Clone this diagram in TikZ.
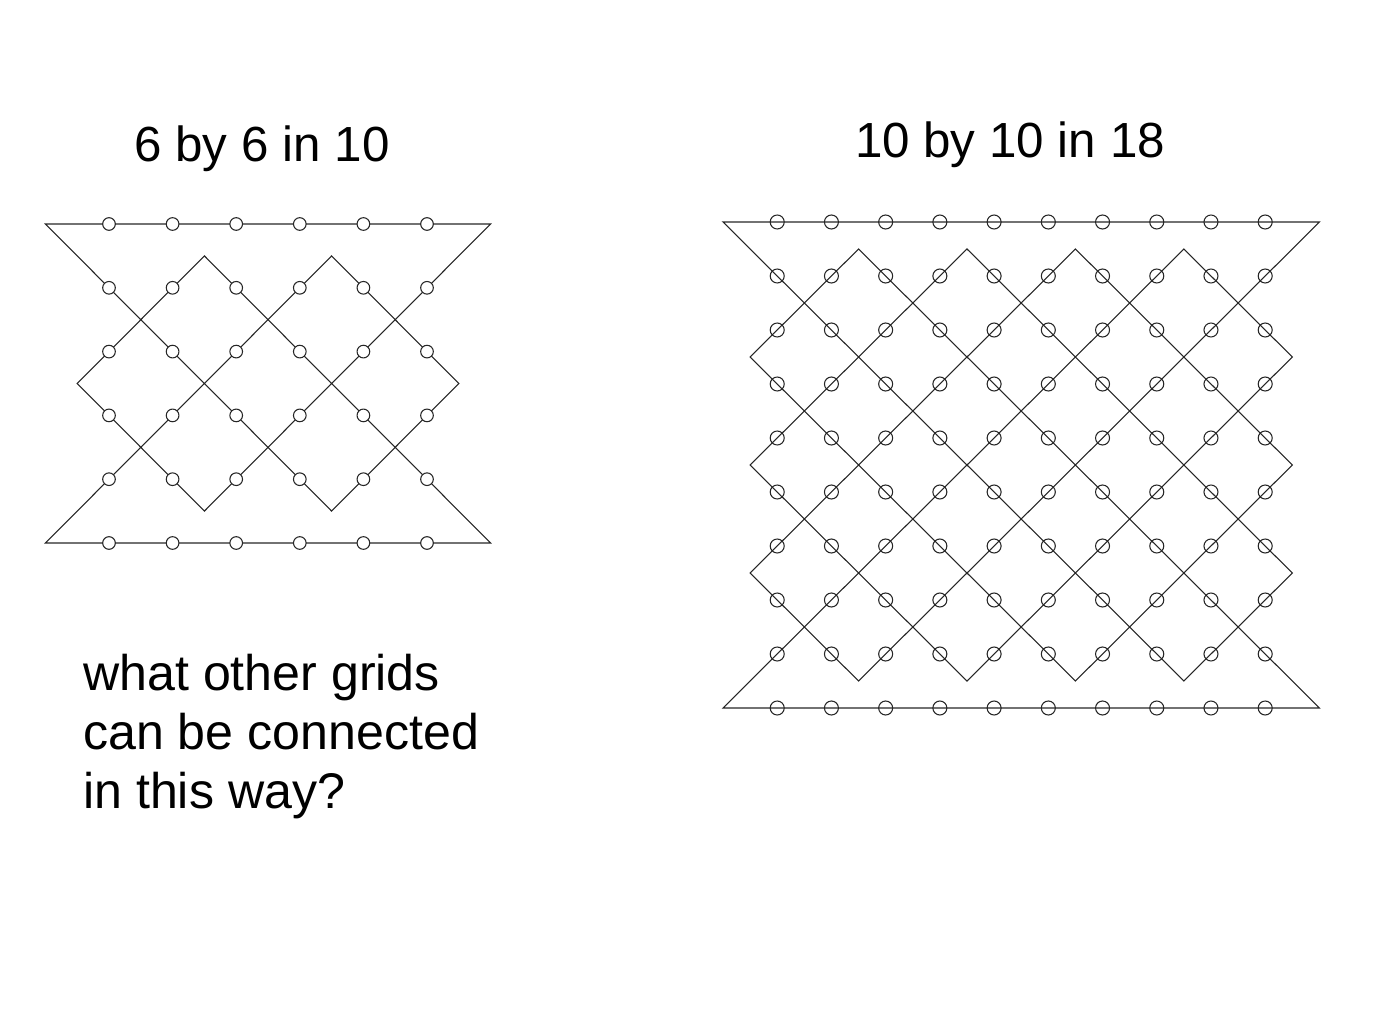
\documentclass[tikz,border=0pt]{standalone}
\usepackage{fontspec}
\setmainfont{Liberation Sans}
\begin{document}
\begin{tikzpicture}[x=0.75pt,y=-0.75pt]
\useasboundingbox (0,0) rectangle (1390,1020);
\tikzset{
  loopline/.style={draw=black!85, line width=0.8pt, line join=miter},
  dotL/.style={circle, draw=black!85, fill=white, line width=0.8pt, inner sep=0pt, minimum size=9.5pt},
  dotR/.style={circle, draw=black!85, line width=0.8pt, inner sep=0pt, minimum size=10.5pt},
  title/.style={font=\fontsize{37}{44.25}\selectfont, inner sep=0pt, anchor=base},
}
% ---------- left grid: 6 by 6 in 10 ----------
\begin{scope}[xshift=34.05pt, yshift=-168pt, x=47.7pt, y=-47.85pt]
  \coordinate (LA) at (0,0);
  \coordinate (LB) at (4.5,4.5);
  \coordinate (LC) at (6.5,2.5);
  \coordinate (LD) at (4.5,0.5);
  \coordinate (LE) at (0,5);
  \coordinate (LF) at (7,5);
  \coordinate (LG) at (2.5,0.5);
  \coordinate (LH) at (0.5,2.5);
  \coordinate (LI) at (2.5,4.5);
  \coordinate (LJ) at (7,0);
  \draw[loopline] (LA) -- (LB) -- (LC) -- (LD) -- (LE) -- (LF) -- (LG) -- (LH) -- (LI) -- (LJ) -- cycle;
  \foreach \i in {1,...,6}
    \foreach \j in {0,...,5}
      \node[dotL] (L-\i-\j) at (\i,\j) {};
\end{scope}
% ---------- right grid: 10 by 10 in 18 ----------
\begin{scope}[xshift=542.25pt, yshift=-166.5pt, x=40.665pt, y=-40.5pt]
  \coordinate (RA) at (0,0);
  \coordinate (RB) at (8.5,8.5);
  \coordinate (RC) at (10.5,6.5);
  \coordinate (RD) at (4.5,0.5);
  \coordinate (RE) at (0.5,4.5);
  \coordinate (RF) at (4.5,8.5);
  \coordinate (RG) at (10.5,2.5);
  \coordinate (RH) at (8.5,0.5);
  \coordinate (RI) at (0,9);
  \coordinate (RJ) at (11,9);
  \coordinate (RK) at (2.5,0.5);
  \coordinate (RL) at (0.5,2.5);
  \coordinate (RM) at (6.5,8.5);
  \coordinate (RN) at (10.5,4.5);
  \coordinate (RO) at (6.5,0.5);
  \coordinate (RP) at (0.5,6.5);
  \coordinate (RQ) at (2.5,8.5);
  \coordinate (RR) at (11,0);
  \draw[loopline] (RA) -- (RB) -- (RC) -- (RD) -- (RE) -- (RF) -- (RG) -- (RH) -- (RI) -- (RJ)
    -- (RK) -- (RL) -- (RM) -- (RN) -- (RO) -- (RP) -- (RQ) -- (RR) -- cycle;
  \foreach \i in {1,...,10}
    \foreach \j in {0,...,9}
      \node[dotR] (R-\i-\j) at (\i,\j) {};
\end{scope}
% ---------- texts ----------
\node[title] (t1) at (262,162) {6 by 6 in 10};
\node[title] (t2) at (1010,158) {10 by 10 in 18};
\node[title, font=\fontsize{37.6}{44.25}\selectfont, anchor=base west, align=left] (q) at (83,808) {what other grids\\can be connected\\in this way?};
\end{tikzpicture}
\end{document}
